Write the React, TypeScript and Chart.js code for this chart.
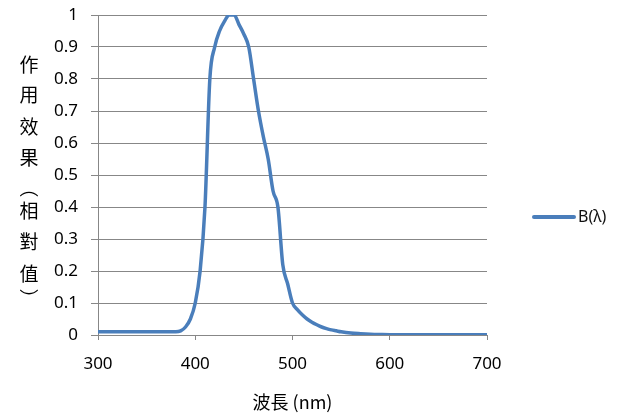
import React, { useEffect, useRef } from "react";
import { Chart, registerables } from "chart.js";

Chart.register(...registerables);

const wavelengths = [
  300, 305, 310, 315, 320, 325, 330, 335, 340, 345, 350, 355, 360, 365, 370, 375, 380,
  385, 390, 395, 400, 405, 410, 415, 420, 425, 430, 435, 440, 445, 450, 455, 460, 465,
  470, 475, 480, 485, 490, 495, 500, 505, 510, 515, 520, 525, 530, 535, 540, 545, 550,
  560, 570, 580, 590, 600, 620, 640, 660, 680, 700,
];
const bValues = [
  0.01, 0.01, 0.01, 0.01, 0.01, 0.01, 0.01, 0.01, 0.01, 0.01, 0.01, 0.01, 0.01, 0.01, 0.01, 0.01, 0.01,
  0.013, 0.025, 0.05, 0.1, 0.2, 0.4, 0.8, 0.9, 0.95, 0.98, 1.0, 1.0, 0.97, 0.94, 0.9, 0.8, 0.7,
  0.62, 0.55, 0.45, 0.4, 0.22, 0.16, 0.1, 0.079, 0.063, 0.05, 0.04, 0.032, 0.025, 0.02, 0.016, 0.013, 0.01,
  0.006, 0.004, 0.0025, 0.0016, 0.001, 0.001, 0.001, 0.001, 0.001, 0.001,
];
const seriesLabel = "B(λ)";
const xTitle = "波長 (nm)";
const yTitleChars = ["作", "用", "效", "果", "︵", "相", "對", "值", "︶"];

const AXIS_GRAY = "#878787";
const LINE_BLUE = "#4a7ebb";
const TICK_FONT = "'Noto Sans', sans-serif";

export default function App() {
  const canvasRef = useRef<HTMLCanvasElement | null>(null);

  useEffect(() => {
    document.body.style.margin = "0";
    const canvas = canvasRef.current;
    if (!canvas) return;

    const extras = {
      id: "extras",
      afterDraw(chart: any) {
        const ctx = chart.ctx as CanvasRenderingContext2D;
        ctx.save();
        ctx.fillStyle = "#000";
        ctx.font = "19px 'Noto Sans CJK TC', sans-serif";
        ctx.textAlign = "center";
        ctx.textBaseline = "middle";
        const ys = [65, 95, 127, 158, 188, 211, 242, 274, 299];
        yTitleChars.forEach((c, i) => ctx.fillText(c, 29, ys[i]));
        const ds = chart.data.datasets[0];
        ctx.strokeStyle = ds.borderColor;
        ctx.lineWidth = 4;
        ctx.lineCap = "round";
        ctx.beginPath();
        ctx.moveTo(534, 217);
        ctx.lineTo(574, 217);
        ctx.stroke();
        ctx.fillStyle = "#111";
        ctx.font = "16px " + TICK_FONT;
        ctx.textAlign = "left";
        ctx.fillText(ds.label, 578, 217);
        ctx.restore();
      },
    };

    const chart = new Chart(canvas, {
      type: "line",
      data: {
        datasets: [
          {
            label: seriesLabel,
            data: wavelengths.map((x, i) => ({ x, y: bValues[i] })),
            borderColor: LINE_BLUE,
            backgroundColor: LINE_BLUE,
            borderWidth: 3.5,
            pointRadius: 0,
            tension: 0.4,
            cubicInterpolationMode: "monotone",
            fill: false,
          },
        ],
      },
      options: {
        animation: false,
        responsive: false,
        maintainAspectRatio: false,
        layout: { padding: { top: 15, right: 130, left: 0, bottom: 0 } },
        plugins: {
          legend: { display: false },
          tooltip: { enabled: false },
        },
        scales: {
          x: {
            type: "linear",
            min: 300,
            max: 700,
            afterFit: (s: any) => {
              s.height = 82;
              s.paddingLeft = 0;
              s.paddingRight = 0;
            },
            ticks: {
              stepSize: 100,
              padding: 14,
              color: "#000",
              font: { family: TICK_FONT, size: 17 },
              maxRotation: 0,
            },
            grid: {
              drawOnChartArea: false,
              drawTicks: true,
              tickLength: 5,
              color: AXIS_GRAY,
            },
            border: { display: true, color: AXIS_GRAY, width: 1 },
            title: {
              display: true,
              text: xTitle,
              color: "#000",
              font: { family: "'Noto Sans CJK TC', sans-serif", size: 18 },
              padding: { top: 0, bottom: 4 },
            },
          },
          y: {
            type: "linear",
            min: 0,
            max: 1,
            afterFit: (s: any) => {
              s.width = 98;
              s.paddingTop = 0;
              s.paddingBottom = 0;
            },
            ticks: {
              stepSize: 0.1,
              padding: 13,
              color: "#000",
              font: { family: TICK_FONT, size: 17 },
              callback: (v: any) => Number(Number(v).toFixed(1)).toString(),
            },
            grid: {
              drawOnChartArea: true,
              drawTicks: true,
              tickLength: 7,
              color: AXIS_GRAY,
            },
            border: { display: true, color: AXIS_GRAY, width: 1 },
          },
        },
      },
      plugins: [extras],
    });

    return () => chart.destroy();
  }, []);

  return (
    <div style={{ position: "relative", width: 617, height: 417, background: "#fff" }}>
      <canvas ref={canvasRef} width={617} height={417} style={{ width: 617, height: 417 }} />
    </div>
  );
}
